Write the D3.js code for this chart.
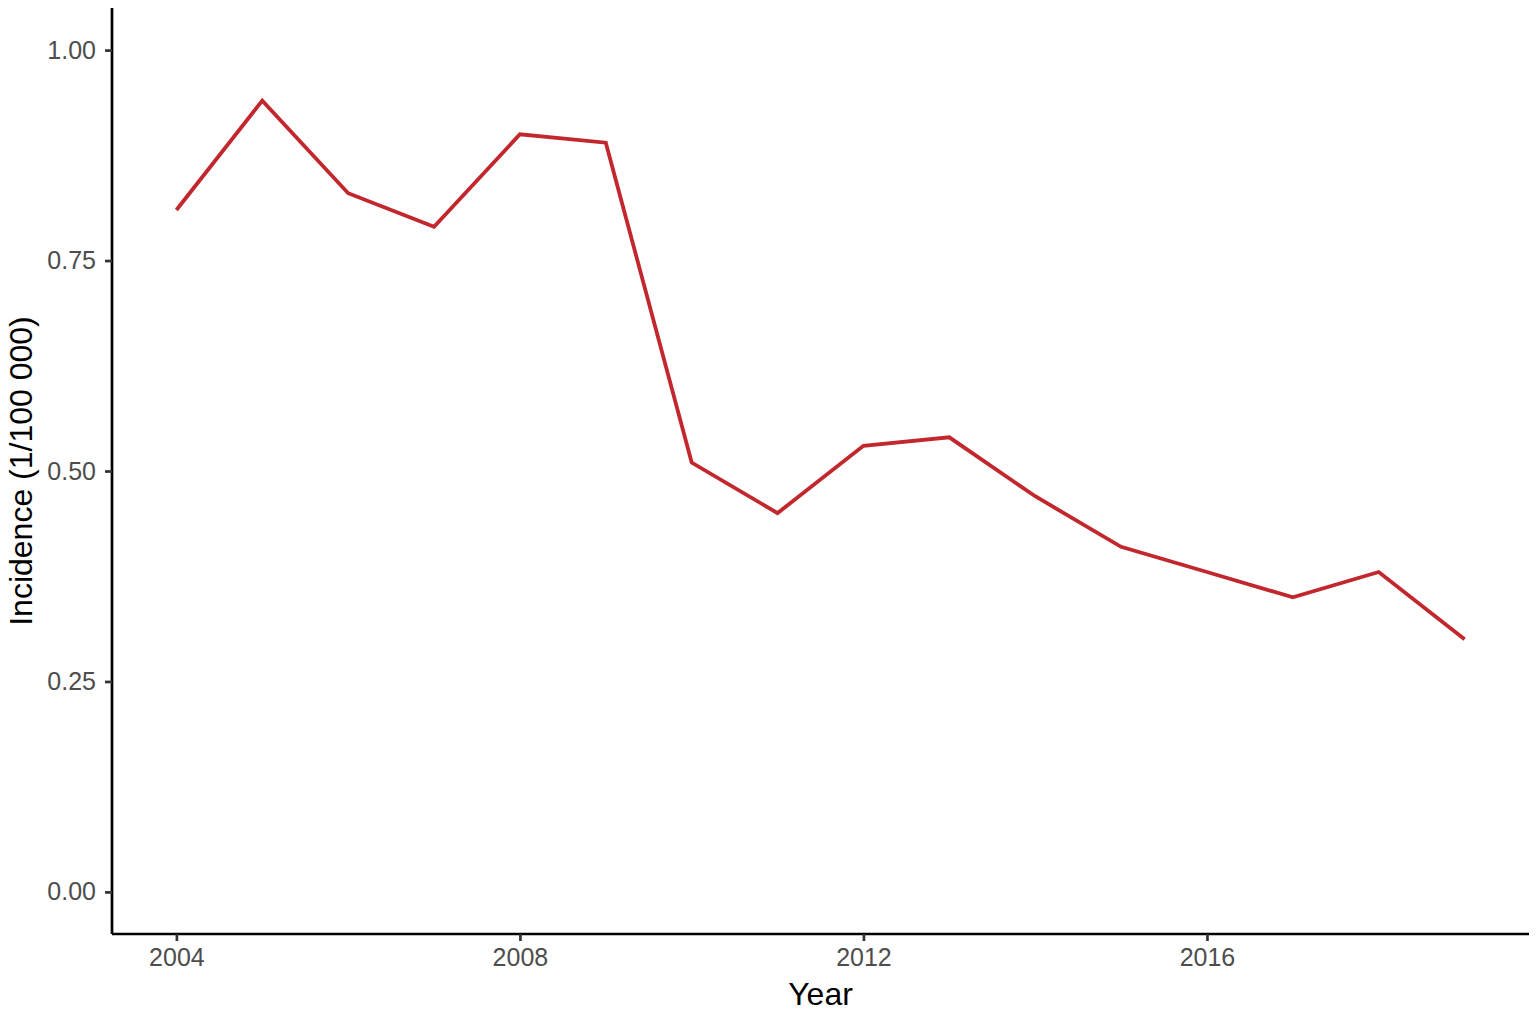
<!DOCTYPE html>
<meta charset="utf-8">
<style>
  body { margin: 0; background: #fff; }
  .tick text { font-family: "Liberation Sans", Arial, sans-serif; font-size: 25px; fill: #4d4d4d; }
  .axis-title { font-family: "Liberation Sans", Arial, sans-serif; font-size: 32px; fill: #000; }
</style>
<script src="https://cdn.jsdelivr.net/npm/d3@7"></script>
<body>
<div id="chart"></div>
</body>
<script>
// data
var years = [2004, 2005, 2006, 2007, 2008, 2009, 2010, 2011, 2012, 2013, 2014, 2015, 2016, 2017, 2018, 2019];
var incidence = [0.81, 0.94, 0.83, 0.79, 0.90, 0.89, 0.51, 0.45, 0.53, 0.54, 0.47, 0.41, 0.38, 0.35, 0.38, 0.30];
var xTicks = [2004, 2008, 2012, 2016];
var yTicks = [0, 0.25, 0.5, 0.75, 1];

var data = years.map(function(y, i) { return {year: y, value: incidence[i]}; });

// dimensions
var W = 1536, H = 1011;
var margin = {top: 8, right: 7, bottom: 77, left: 112},
    width = W - margin.left - margin.right,
    height = H - margin.top - margin.bottom;

var svg = d3.select("#chart")
  .append("svg")
    .attr("width", W)
    .attr("height", H)
  .append("g")
    .attr("transform", "translate(" + margin.left + "," + margin.top + ")");

// scales, with ggplot-like 5% padding
var x = d3.scaleLinear()
  .domain([2003.25, 2019.75])
  .range([0, width]);
var y = d3.scaleLinear()
  .domain([-0.05, 1.05])
  .range([height, 0]);

// X axis
var xAxis = svg.append("g")
  .attr("transform", "translate(0," + height + ")")
  .call(d3.axisBottom(x).tickValues(xTicks).tickFormat(d3.format("d")).tickSize(7).tickPadding(7));

// Y axis
var yAxis = svg.append("g")
  .call(d3.axisLeft(y).tickValues(yTicks).tickFormat(d3.format(".2f")).tickSize(7).tickPadding(9));

[xAxis, yAxis].forEach(function(a) {
  a.select(".domain").attr("stroke", "#000").attr("stroke-width", 2.7)
    .attr("d", a === xAxis ? "M0,0H" + width : "M0,0V" + height);
  a.selectAll(".tick line").attr("stroke", "#333").attr("stroke-width", 2.7);
});

// line
var line = d3.line()
  .x(function(d) { return x(d.year); })
  .y(function(d) { return y(d.value); });

svg.append("path")
  .datum(data)
  .attr("fill", "none")
  .attr("stroke", "#C1272D")
  .attr("stroke-width", 3.8)
  .attr("stroke-linejoin", "miter")
  .attr("d", line);

// axis titles
svg.append("text")
  .attr("class", "axis-title")
  .attr("x", width / 2)
  .attr("y", height + 71)
  .attr("text-anchor", "middle")
  .text("Year");

svg.append("text")
  .attr("class", "axis-title")
  .attr("transform", "translate(" + (-80) + "," + (y(0.5)) + ") rotate(-90)")
  .attr("text-anchor", "middle")
  .text("Incidence (1/100 000)");
</script>
</html>
